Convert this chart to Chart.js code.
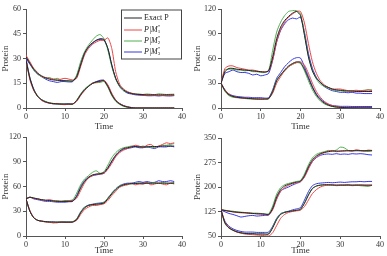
<!DOCTYPE html>
<html>
<head>
<meta charset="utf-8">
<script src="https://cdn.jsdelivr.net/npm/chart.js@4/dist/chart.umd.min.js"></script>
<style>
body { margin: 0; background: #fff; width: 387px; height: 256px; position: relative; overflow: hidden; }
canvas { position: absolute; }
</style>
</head>
<body>
<canvas id="c1" width="192" height="132" style="left:0;top:0"></canvas>
<canvas id="c2" width="195" height="132" style="left:192px;top:0"></canvas>
<canvas id="c3" width="192" height="128" style="left:0;top:128px"></canvas>
<canvas id="c4" width="195" height="128" style="left:192px;top:128px"></canvas>
<script>
const times = [0,1,2,3,4,5,6,7,8,9,10,11,12,13,14,15,16,17,18,19,20,21,22,23,24,25,26,27,28,29,30,31,32,33,34,35,36,37,38]
const legendNames = ["Exact P", "M1", "M2", "M3"]

// plot 1
const p1UpExact = [31,27,23.5,21,19.5,18.3,17.5,17,16.8,16.6,16.5,16.4,16.4,19,26,33,37,39.5,41,42,41.5,36,26,18,13.5,11,9.5,8.8,8.4,8.2,8.1,8,8,8,8,8,8,8,8]
const p1UpM1 = [32,28,24,21.5,19,18.5,18,17.5,17,17.5,18,17.5,17,18,25,32,36,38.5,40,41,41,42.5,36,22,14.5,11.5,10,9,8.5,8,7.8,7.5,7.6,7.8,7.5,7.6,7.4,7.5,7.6]
const p1UpM2 = [31,27.5,23,20.5,19,18,18.5,17.5,18,17,16.5,16.5,16.5,20,28,34,38,41,43.5,44.5,42,35,25,17.5,13,10.5,9.5,9,8.5,8.5,8.2,8.5,8.3,8.1,8.6,8.4,8.2,8.3,8.4]
const p1UpM3 = [30,26.5,23,20.5,19,17.5,16.5,16,15.5,16,16,15.8,16,19.5,27,33.5,37,39,41,41.5,41,36,26,18,13,10.5,9,8.5,8,7.8,7.6,7.5,7.4,7.5,7.3,7.5,7.4,7.3,7.5]
const p1LowExact = [29,18,11,7,5,3.8,3,2.7,2.5,2.4,2.4,2.4,2.4,4.5,8,11,13,14.8,15.8,16.3,16.5,13,8,4.5,2.5,1.3,0.6,0.2,0,0,0,0,0,0,0,0,0,0,0]
const p1LowM1 = [29,17,10.5,7,4.5,3.5,3,2.5,2.8,2.2,2,2.3,2.5,4,7.5,10.5,13,15,15.5,16,16.8,14,9,5,2.8,1.5,0.7,0.3,0,0,0,0,0,0,0,0,0,0,0]
const p1LowM2 = [29,18,11,7.5,5,4,3.2,2.8,2.3,2.6,2.2,2.5,2.3,4.8,8.5,11.5,13.5,15,15.3,15.5,16,12.5,7.5,4,2.2,1,0.4,0.1,0,0,0,0,0,0,0,0,0,0,0]
const p1LowM3 = [30,18.5,11.5,7,5,3.5,3,2.5,2.5,2.3,2.4,2.6,2.5,4.6,8.2,11.2,13.2,15,16,16.8,16.8,13.5,8.2,4.6,2.7,1.5,0.8,0.3,0,0,0,0,0,0,0,0,0,0,0]

// plot 2
const p2UpExact = [30,44,48,48,47,46.5,46,45.5,45,44.5,44,43.5,45,62,84,98,106,111,115,117,112,88,62,45,36,31,27,25,23,22,21.5,21,20.5,20.5,20,20,20,20,20]
const p2UpM1 = [30,48,51,51,49,48,47,46,46,45,44,44,45,58,80,95,104,110,114,117,117,103,78,56,42,33,28,25,23,23,23,22,21,21,21.5,21,21,22,21]
const p2UpM2 = [30,46,47,47,46,46,45,45.5,44,44,43,43,46,70,92,104,112,117,118,118,114,90,62,45,35,29,26,24,22,21,21,20,21,20.5,21,21,21.5,22,22]
const p2UpM3 = [30,42,44,46,44,43,43,42,40,41,39,40,42,58,80,94,102,107,109,108,110,92,66,48,37,31,26,23,21,20,19,19,18.5,19,18,18,17.5,17.5,17.5]
const p2LowExact = [30,21,16,14,13,12.5,12,11.5,11.2,11,11,11,11.5,20,33,40,46,51,54,56,55,47,36,25,16,10,6,3.5,2,1.2,0.8,0.5,0.3,0.2,0.2,0.1,0.1,0.1,0.1]
const p2LowM1 = [30,22,17,14,13,12,12,12,11,11,10.5,11,11.5,18,30,38,45,50,53,55,56,52,42,30,20,13,8,5,3,2,1,0.7,0.5,0.4,0.3,0.3,0.2,0.2,0.2]
const p2LowM2 = [30,20,15,13,12.5,12,11.5,11,11,10.5,10.5,10.5,11,21,34,40,45,50,53,55,54,45,33,22,14,8.5,5,3,1.8,1,0.6,0.4,0.3,0.2,0.2,0.1,0.1,0.1,0.1]
const p2LowM3 = [30,22,17,15,14,13.5,13,13,12.5,12.5,12.5,12,12.5,22,36,43,50,55,59,61,60.5,50,38,26,17,11,7,4.5,3,2.5,2,2,2,1.8,1.8,1.8,1.8,1.8,1.8]

// plot 3
const p3UpExact = [45,47,46,45,44,43.5,43,42.5,42,42,42,42,42.5,48,58,66,71,74,75,75.5,77,83,91,98,103,106,107,108,108.5,108,108,108,108.5,108.5,108.5,109,109,109,109]
const p3UpM1 = [45,47,45.5,45,44,43,44,43,42,42,42,42.5,43,46,55,64,70,73,75,75,76,81,88,96,101,104,106,108,110,109,107,110,111,108,109,111,113,112,113]
const p3UpM2 = [45,47,46,45,44,43,43.5,42,43,42,43,43,44,52,62,69,73,77,79,76,78,86,95,101,105,107,108,109,109,108,109,108,108,107,109,110,110,111,112]
const p3UpM3 = [45,47,45,44,43,42,42,41.5,41,41,41,41.5,42,49,60,67,71,73,74,75,76,82,90,97,102,105,106,107,108,107,107,108,107,106,108,108,108,109,108]
const p3LowExact = [45,30,22,19,18,17.5,17,17,16.8,16.8,16.8,16.8,17,20,28,34,37,38,38.5,39,40,45,51,56,60,62,63,63.5,63.5,64,64,64,64,64,64,64,64,64,64]
const p3LowM1 = [45,31,22.5,19,18,17,16.5,16,16,17,16.5,16.5,17,19,26,32,35,37,37,38,39,43,49,54,59,61,62,64,62,63,63,65,62,63,64,63,62,64,63]
const p3LowM2 = [45,30,22,19,18,17,17,16,17,17,17,17,17.5,21,29,35,37,38,39,39,41,46,52,57,61,62,63,63,64,64,63,64,64,65,64,65,64,64,65]
const p3LowM3 = [45,30,22,19,18,17.5,17,17,16.5,17,17,17,17,20.5,29,35,37.5,38.5,39.5,40,41,46,52,57,61,63,64,64,65,66,65,66,65,65,67,66,66,67,66]

// plot 4
const p4UpExact = [130,128,126,124,123,122,121,120,119,118,118,117,116,135,170,192,203,208,212,215,218,235,262,283,295,302,306,308,310,310,310,310,311,311,311,311,311,311,311]
const p4UpM1 = [131,128,126,124,122,121,121,120,119,118,117,116,115,130,162,186,198,205,210,213,216,230,255,278,292,300,305,310,312,308,310,312,311,310,314,312,310,313,312]
const p4UpM2 = [131,129,127,126,124,123,122,121,120,120,119,118,118,142,178,198,207,211,214,217,220,240,268,289,300,305,308,312,310,313,322,320,312,310,312,311,310,309,311]
const p4UpM3 = [129,124,119,116,112,108,110,112,113,111,112,113,114,133,165,188,195,200,206,211,216,232,258,278,290,297,300,301,300,302,300,301,300,302,301,302,301,299,298]
const p4LowExact = [130,90,75,68,63,60,58,57,57,56,56,56,56,75,100,116,122,125,127,129,132,150,175,195,203,206,207,207,206,206,206,206,206,206,206,206,206,206,206]
const p4LowM1 = [130,92,76,68,62,59,56,55,54,53,52,51,50,60,82,104,116,122,125,127,129,140,160,180,192,200,204,206,207,205,206,205,206,204,205,206,205,204,205]
const p4LowM2 = [130,88,74,67,62,59,58,57,58,56,57,56,57,77,102,118,123,125,126,128,131,152,177,196,203,205,206,205,206,204,205,206,207,205,206,204,203,202,205]
const p4LowM3 = [130,95,80,72,67,64,62,62,62,61,61,61,62,80,104,118,123,126,130,133,137,160,186,204,210,212,213,214,213,214,215,214,215,216,216,217,216,217,217]

const yTicks1 = [0, 15, 30, 45, 60]
const yTicks2 = [0, 30, 60, 90, 120]
const yTicks3 = [0, 30, 60, 90, 120]
const yTicks4 = [50, 125, 200, 275, 350]
const xTicks = [0, 10, 20, 30, 40]

const COLORS = ['rgb(35,35,35)', 'rgb(235,70,70)', 'rgb(80,175,80)', 'rgb(55,55,225)']
const FONT = "'Liberation Serif', 'DejaVu Serif', serif"

function pts(arr) {
    return arr.map((v, i) => ({ x: times[i], y: v }))
}

function makeSets(groups) {
    let sets = []
    groups.forEach(g => {
        g.forEach((arr, k) => {
            sets.push({
                label: legendNames[k],
                data: pts(arr),
                borderColor: COLORS[k],
                borderWidth: 1,
                pointRadius: 0,
                tension: 0.25,
                fill: false
            })
        })
    })
    return sets
}

// legend drawn inside the first chart
const legendBox = {
    id: 'legendBox',
    afterDraw(chart) {
        let ctx = chart.ctx
        let a = chart.chartArea
        let x0 = a.right - 61, y0 = a.top + 0.5, w = 61, h = 50
        ctx.save()
        ctx.fillStyle = '#fff'
        ctx.fillRect(x0, y0, w, h)
        ctx.strokeStyle = '#444'
        ctx.lineWidth = 1
        ctx.strokeRect(x0 + 0.5, y0 + 0.5, w - 1, h - 1)
        let rows = [8, 20, 31, 42]
        rows.forEach((ry, k) => {
            let y = y0 + ry
            ctx.strokeStyle = COLORS[k]
            ctx.beginPath()
            ctx.moveTo(x0 + 3, y + 0.5)
            ctx.lineTo(x0 + 21, y + 0.5)
            ctx.stroke()
            ctx.fillStyle = '#222'
            ctx.textBaseline = 'middle'
            let tx = x0 + 23
            if (k === 0) {
                ctx.font = "8px " + FONT
                ctx.fillText("Exact P", tx, y)
            } else {
                ctx.font = "italic 8px " + FONT
                ctx.fillText("P|M", tx, y)
                tx += ctx.measureText("P|M").width
                ctx.font = "5px " + FONT
                ctx.fillText(String(k), tx, y + 2.5)
                ctx.fillText("*", tx, y - 2.5)
            }
        })
        ctx.restore()
    }
}

function makeChart(id, groups, yMin, yMax, yStep, yWidth, xHeight, pad, plugins) {
    let ctx = document.getElementById(id).getContext('2d')
    return new Chart(ctx, {
        type: 'line',
        data: { datasets: makeSets(groups) },
        plugins: plugins,
        options: {
            responsive: false,
            animation: false,
            devicePixelRatio: 1,
            layout: { padding: pad, autoPadding: false },
            plugins: { legend: { display: false }, tooltip: { enabled: false } },
            scales: {
                x: {
                    type: 'linear', min: 0, max: 40,
                    afterBuildTicks: s => { s.ticks = xTicks.map(v => ({ value: v })) },
                    afterFit: s => { s.height = xHeight },
                    grid: { display: true, drawOnChartArea: false, drawTicks: true, tickLength: 3, color: '#555' },
                    border: { color: '#555', width: 1 },
                    ticks: { color: '#333', font: { family: FONT, size: 8 }, padding: 1, maxRotation: 0 },
                    title: { display: true, text: 'Time', color: '#333', font: { family: FONT, size: 9 }, padding: { top: 1, bottom: 0 } }
                },
                y: {
                    min: yMin, max: yMax,
                    ticks: { stepSize: yStep, color: '#333', font: { family: FONT, size: 8 }, padding: 2 },
                    afterFit: s => { s.width = yWidth },
                    grid: { display: true, drawOnChartArea: false, drawTicks: true, tickLength: 3, color: '#555' },
                    border: { color: '#555', width: 1 },
                    title: { display: true, text: 'Protein', color: '#333', font: { family: FONT, size: 9 }, padding: { top: 0, bottom: 0 } }
                }
            }
        }
    })
}

makeChart('c1', [[p1UpExact, p1UpM1, p1UpM2, p1UpM3], [p1LowExact, p1LowM1, p1LowM2, p1LowM3]],
    0, 60, 15, 26, 24, { top: 9, right: 10, left: 0, bottom: 0 }, [legendBox])
makeChart('c2', [[p2UpExact, p2UpM1, p2UpM2, p2UpM3], [p2LowExact, p2LowM1, p2LowM2, p2LowM3]],
    0, 120, 30, 29, 24, { top: 9, right: 7, left: 0, bottom: 0 }, [])
makeChart('c3', [[p3UpExact, p3UpM1, p3UpM2, p3UpM3], [p3LowExact, p3LowM1, p3LowM2, p3LowM3]],
    0, 120, 30, 26, 20, { top: 9, right: 10, left: 0, bottom: 0 }, [])
makeChart('c4', [[p4UpExact, p4UpM1, p4UpM2, p4UpM3], [p4LowExact, p4LowM1, p4LowM2, p4LowM3]],
    50, 350, 75, 29, 20, { top: 10, right: 7, left: 0, bottom: 0 }, [])
</script>
</body>
</html>
